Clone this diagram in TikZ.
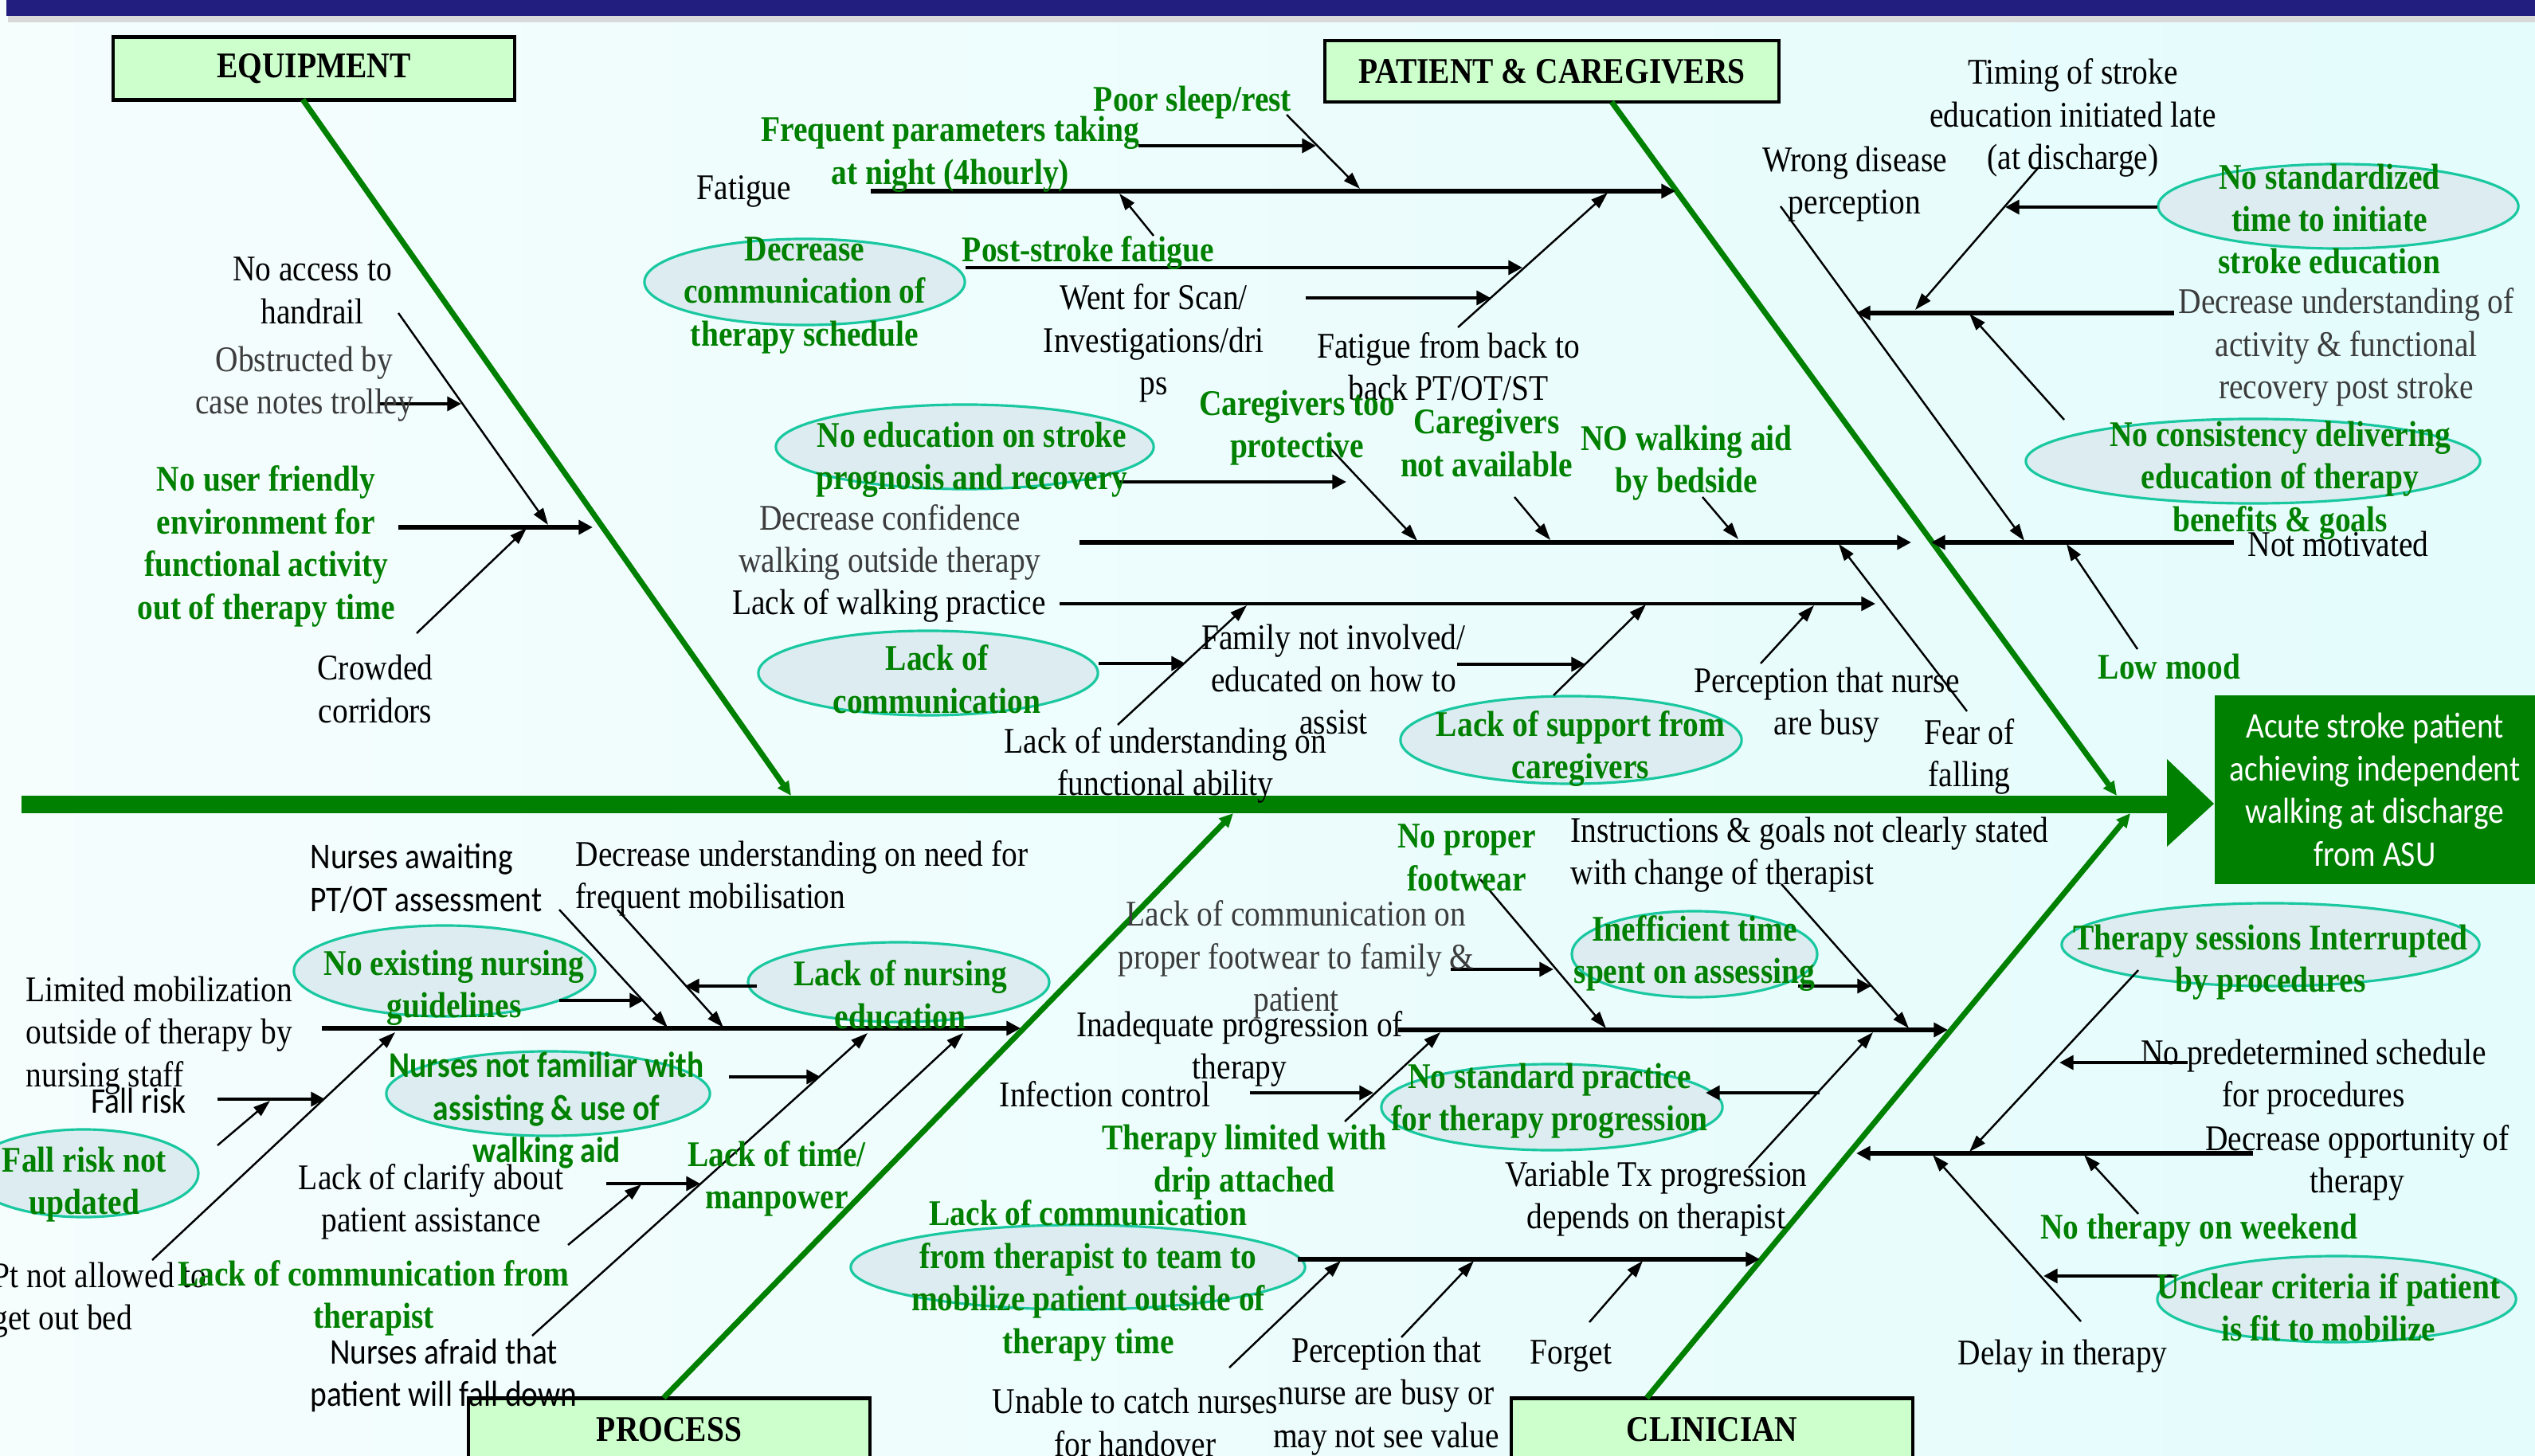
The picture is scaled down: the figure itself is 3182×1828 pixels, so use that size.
\documentclass[tikz,border=0pt]{standalone}
\usepackage{fontspec}
\setmainfont{Liberation Serif}[FakeStretch=0.87]
\newfontfamily\calfont{Carlito}[FakeStretch=0.87]
\usetikzlibrary{arrows.meta,shapes,positioning}
\definecolor{bonegreen}{RGB}{0,128,0}
\definecolor{catfill}{RGB}{204,255,204}
\definecolor{ovalfill}{RGB}{221,236,240}
\definecolor{ovalline}{RGB}{25,200,160}
\definecolor{navybar}{RGB}{33,30,128}
\definecolor{txtgray}{RGB}{60,60,60}
\definecolor{bgleft}{RGB}{245,253,253}
\definecolor{bgright}{RGB}{228,252,252}
\newcommand{\lblsize}{\fontsize{12.9pt}{15.2pt}\selectfont}

\begin{document}
\begin{tikzpicture}[x=0.01cm, y=-0.01cm,
  every node/.style={font=\lblsize, align=center, inner sep=0pt},
  gtxt/.style={text=txtgray},
  grn/.style={text=bonegreen, font=\lblsize\bfseries},
  sans/.style={font=\lblsize\calfont},
  oval/.style={ellipse, draw=ovalline, fill=ovalfill, line width=0.9pt},
  catbox/.style={draw=black, fill=catfill, line width=1.3pt, minimum width=5.04cm, minimum height=0.79cm, font=\lblsize\bfseries},
  goalbox/.style={fill=bonegreen, text=white, font=\lblsize\calfont, minimum width=4.02cm, minimum height=2.37cm},
  catbone/.style={bonegreen, line width=2pt, -{Triangle[length=5pt,width=4.5pt]}},
  bone/.style={line width=1.5pt, -{Triangle[length=5pt,width=5pt]}},
  feed/.style={line width=1.3pt, -{Triangle[length=5pt,width=5pt]}},
  twig/.style={line width=0.7pt, -{Triangle[length=6pt,width=4pt]}}]
\useasboundingbox (0,0) rectangle (3182,1828);
\shade[left color=bgleft, right color=bgright] (0,0) rectangle (3182,1828);
\fill[black!15] (10,20) rectangle (3182,28);
\fill[navybar] (8,0) rectangle (3182,20);

% spine and head
\coordinate (tail) at (27,1010);
\coordinate (head) at (2722,1010);
\coordinate (hd1) at (2720,953);
\coordinate (hd2) at (2779,1009);
\coordinate (hd3) at (2720,1063);
\draw[bonegreen, line width=0.21cm] (tail) -- (head);
\fill[bonegreen] (hd1) -- (hd2) -- (hd3) -- cycle;
\node[goalbox] (goal) at (2981,991.5) {Acute stroke patient\\achieving independent\\walking at discharge\\from ASU};

% categories
\node[catbox] (equip) at (394,86) {EQUIPMENT};
\node[catbox, minimum width=5.70cm, minimum height=0.77cm] (patcare) at (1948,89.5) {PATIENT \& CAREGIVERS};
\node[catbox] (process) at (840,1795) {PROCESS};
\node[catbox] (clinic) at (2149,1795) {CLINICIAN};
\coordinate (eqt) at (380,125); \coordinate (eqh) at (993,999);
\coordinate (pct) at (2023,128); \coordinate (pch) at (2657,999);
\coordinate (prt) at (833,1755); \coordinate (prh) at (1548,1021);
\coordinate (clt) at (2067,1755); \coordinate (clh) at (2674,1021);
\draw[catbone] (eqt) -- (eqh);
\draw[catbone] (pct) -- (pch);
\draw[catbone] (prt) -- (prh);
\draw[catbone] (clt) -- (clh);

% ovals
\node[oval, minimum width=4.02cm, minimum height=1.08cm] (ovsched) at (1010,354) {};
\node[oval, minimum width=4.74cm, minimum height=1.06cm] (ovprog) at (1211,561) {};
\node[oval, minimum width=4.26cm, minimum height=1.06cm] (ovcomm) at (1165,845) {};
\node[oval, minimum width=4.28cm, minimum height=1.10cm] (ovsupp) at (1972,929) {};
\node[oval, minimum width=4.52cm, minimum height=1.06cm] (ovstd) at (2935,259) {};
\node[oval, minimum width=5.70cm, minimum height=1.06cm] (ovcons) at (2828,579) {};
\node[oval, minimum width=3.78cm, minimum height=1.14cm] (ovguide) at (558,1219) {};
\node[oval, minimum width=3.78cm, minimum height=1.00cm] (ovnursedu) at (1128,1233) {};
\node[oval, minimum width=2.88cm, minimum height=1.10cm] (ovfallnot) at (105,1473) {};
\node[oval, minimum width=4.06cm, minimum height=1.06cm] (ovfamil) at (688,1373) {};
\node[oval, minimum width=3.08cm, minimum height=1.08cm] (ovineff) at (2127,1198) {};
\node[oval, minimum width=4.28cm, minimum height=1.08cm] (ovprac) at (1948,1390) {};
\node[oval, minimum width=5.70cm, minimum height=1.06cm] (ovteam) at (1353,1591) {};
\node[oval, minimum width=5.24cm, minimum height=1.04cm] (ovinterr) at (2850,1186) {};
\node[oval, minimum width=4.50cm, minimum height=1.08cm] (ovunclear) at (2933,1631) {};

% equipment
\coordinate (ea1) at (500,662); \coordinate (ea2) at (744,662);
\coordinate (hr1) at (500,393); \coordinate (hr2) at (688,659);
\coordinate (tr1) at (476,507); \coordinate (tr2) at (579,507);
\coordinate (cr1) at (523,795); \coordinate (cr2) at (661,663);
\draw[bone] (ea1) -- (ea2);
\draw[twig] (hr1) -- (hr2);
\draw[feed] (tr1) -- (tr2);
\draw[twig] (cr1) -- (cr2);
\node (handrail) at (392,365) {No access to\\handrail};
\node[gtxt] (trolley) at (382,482) {Obstructed by\\case notes trolley};
\node[grn] (userfr) at (334,686) {No user friendly\\environment for\\functional activity\\out of therapy time};
\node (corridor) at (471,865) {Crowded\\corridors};

% patient & caregivers
\coordinate (pa1) at (1093,240); \coordinate (pa2) at (2103,240);
\coordinate (pb1) at (1355,681); \coordinate (pb2) at (2399,681);
\coordinate (pc1) at (1330,758); \coordinate (pc2) at (2354,758);
\coordinate (pd1) at (2729,393); \coordinate (pd2) at (2330,393);
\coordinate (pe1) at (2804,681); \coordinate (pe2) at (2424,681);
\draw[bone] (pa1) -- (pa2);
\draw[bone] (pb1) -- (pb2);
\draw[bone, line width=1pt] (pc1) -- (pc2);
\draw[bone] (pd1) -- (pd2);
\draw[bone] (pe1) -- (pe2);
\coordinate (fq1) at (1429,183); \coordinate (fq2) at (1652,183);
\coordinate (sl1) at (1615,144); \coordinate (sl2) at (1707,237);
\coordinate (ps1) at (1448,296); \coordinate (ps2) at (1405,243);
\coordinate (ps3) at (1212,336); \coordinate (ps4) at (1911,336);
\coordinate (bk1) at (1830,411); \coordinate (bk2) at (2018,242);
\coordinate (sc1) at (1639,374); \coordinate (sc2) at (1871,374);
\coordinate (pr1) at (1405,605); \coordinate (pr2) at (1690,605);
\coordinate (tp1) at (1668,561); \coordinate (tp2) at (1779,679);
\coordinate (na1) at (1901,624); \coordinate (na2) at (1946,678);
\coordinate (bs1) at (2137,624); \coordinate (bs2) at (2182,677);
\coordinate (fr1) at (2469,893); \coordinate (fr2) at (2308,683);
\coordinate (lc1) at (1379,833); \coordinate (lc2) at (1488,833);
\coordinate (fa1) at (1403,910); \coordinate (fa2) at (1565,760);
\coordinate (fm1) at (1829,834); \coordinate (fm2) at (1990,834);
\coordinate (su1) at (1950,873); \coordinate (su2) at (2066,759);
\coordinate (nb1) at (2210,833); \coordinate (nb2) at (2277,760);
\coordinate (tm1) at (2559,210); \coordinate (tm2) at (2404,389);
\coordinate (ns1) at (2708,260); \coordinate (ns2) at (2517,260);
\coordinate (wd1) at (2235,259); \coordinate (wd2) at (2541,679);
\coordinate (co1) at (2591,527); \coordinate (co2) at (2472,394);
\coordinate (lm1) at (2683,815); \coordinate (lm2) at (2594,683);
\draw[feed] (fq1) -- (fq2);
\draw[twig] (sl1) -- (sl2);
\draw[twig] (ps1) -- (ps2);
\draw[feed] (ps3) -- (ps4);
\draw[twig] (bk1) -- (bk2);
\draw[feed] (sc1) -- (sc2);
\draw[feed] (pr1) -- (pr2);
\draw[twig] (tp1) -- (tp2);
\draw[twig] (na1) -- (na2);
\draw[twig] (bs1) -- (bs2);
\draw[twig] (fr1) -- (fr2);
\draw[feed] (lc1) -- (lc2);
\draw[twig] (fa1) -- (fa2);
\draw[feed] (fm1) -- (fm2);
\draw[twig] (su1) -- (su2);
\draw[twig] (nb1) -- (nb2);
\draw[twig] (tm1) -- (tm2);
\draw[feed] (ns1) -- (ns2);
\draw[twig] (wd1) -- (wd2);
\draw[twig] (co1) -- (co2);
\draw[twig] (lm1) -- (lm2);
\node (fatigue) at (934,240) {Fatigue};
\node[grn] (freq) at (1193,194) {Frequent parameters taking\\at night (4hourly)};
\node[grn] (sleep) at (1497,129) {Poor sleep/rest};
\node[grn] (poststr) at (1366,318) {Post-stroke fatigue};
\node[grn] (sched) at (1010,371) {Decrease\\communication of\\therapy schedule};
\node (scan) at (1448,431) {Went for Scan/\\Investigations/dri\\ps};
\node (backpt) at (1818,460) {Fatigue from back to\\back PT/OT/ST};
\node[grn] (prog) at (1220,577) {No education on stroke\\prognosis and recovery};
\node[grn] (protect) at (1628,537) {Caregivers too\\protective};
\node[grn] (notavail) at (1866,556) {Caregivers\\not available};
\node[grn] (bedside) at (2117,581) {NO walking aid\\by bedside};
\node[gtxt] (confid) at (1117,681) {Decrease confidence\\walking outside therapy};
\node (practice) at (1116,760) {Lack of walking practice};
\node[grn] (comm) at (1176,853) {Lack of\\communication};
\node (funcab) at (1463,961) {Lack of understanding on\\functional ability};
\node (family) at (1674,853) {Family not involved/\\educated on how to\\assist};
\node[grn] (supp) at (1984,940) {Lack of support from\\caregivers};
\node (busy) at (2293,885) {Perception that nurse\\are busy};
\node (fear) at (2472,950) {Fear of\\falling};
\node (timing) at (2602,148) {Timing of stroke\\education initiated late\\(at discharge)};
\node (wrong) at (2328,231) {Wrong disease\\perception};
\node[grn] (std) at (2924,275) {No standardized\\time to initiate\\stroke education};
\node[gtxt] (decund) at (2945,436) {Decrease understanding of\\activity \& functional\\recovery post stroke};
\node[grn] (cons) at (2862,603) {No consistency delivering\\education of therapy\\benefits \& goals};
\node (motiv) at (2935,683) {Not motivated};
\node[grn] (mood) at (2723,837) {Low mood};

% process
\coordinate (ra1) at (404,1291); \coordinate (ra2) at (1281,1291);
\coordinate (aw1) at (702,1142); \coordinate (aw2) at (838,1290);
\coordinate (dn1) at (775,1142); \coordinate (dn2) at (908,1290);
\coordinate (ne1) at (702,1256); \coordinate (ne2) at (808,1256);
\coordinate (ln1) at (950,1238); \coordinate (ln2) at (860,1238);
\coordinate (fk1) at (273,1380); \coordinate (fk2) at (408,1380);
\coordinate (pn1) at (191,1582); \coordinate (pn2) at (496,1296);
\coordinate (fu1) at (273,1438); \coordinate (fu2) at (339,1382);
\coordinate (nf1) at (915,1352); \coordinate (nf2) at (1030,1352);
\coordinate (af1) at (668,1677); \coordinate (af2) at (1089,1297);
\coordinate (cf1) at (761,1486); \coordinate (cf2) at (879,1486);
\coordinate (ct1) at (713,1563); \coordinate (ct2) at (805,1487);
\coordinate (mp1) at (1048,1447); \coordinate (mp2) at (1209,1297);
\draw[bone] (ra1) -- (ra2);
\draw[twig] (aw1) -- (aw2);
\draw[twig] (dn1) -- (dn2);
\draw[feed] (ne1) -- (ne2);
\draw[feed] (ln1) -- (ln2);
\draw[feed] (fk1) -- (fk2);
\draw[twig] (pn1) -- (pn2);
\draw[twig] (fu1) -- (fu2);
\draw[feed] (nf1) -- (nf2);
\draw[twig] (af1) -- (af2);
\draw[feed] (cf1) -- (cf2);
\draw[twig] (ct1) -- (ct2);
\draw[twig] (mp1) -- (mp2);
\node[sans, anchor=west, align=left] (awaiting) at (389,1103) {Nurses awaiting\\PT/OT assessment};
\node[anchor=west, align=left] (needmob) at (722,1103) {Decrease understanding on need for\\frequent mobilisation};
\node[anchor=west, align=left] (limited) at (32,1300) {Limited mobilization\\outside of therapy by\\nursing staff};
\node[grn] (guide) at (570,1240) {No existing nursing\\guidelines};
\node[grn] (nursedu) at (1130,1249) {Lack of nursing\\education};
\node[sans] (fallrisk) at (174,1382) {Fall risk};
\node[grn] (fallnot) at (106,1487) {Fall risk not\\updated};
\node[anchor=west, align=left] (outbed) at (-10,1632) {Pt not allowed to\\get out bed};
\node[grn, font=\lblsize\calfont\bfseries] (familiar) at (686,1394) {Nurses not familiar with\\assisting \& use of\\walking aid};
\node (clarify) at (541,1509) {Lack of clarify about\\patient assistance};
\node[grn] (commth) at (469,1630) {Lack of communication from\\therapist};
\node[sans] (afraid) at (557,1727) {Nurses afraid that\\patient will fall down};
\node[grn] (manpow) at (975,1480) {Lack of time/\\manpower};

% clinician
\coordinate (ca1) at (1755,1293); \coordinate (ca2) at (2445,1293);
\coordinate (cb1) at (1629,1581); \coordinate (cb2) at (2209,1581);
\coordinate (cc1) at (2828,1448); \coordinate (cc2) at (2330,1448);
\draw[bone] (ca1) -- (ca2);
\draw[bone] (cb1) -- (cb2);
\draw[bone] (cc1) -- (cc2);
\coordinate (fw1) at (1858,1104); \coordinate (fw2) at (2016,1291);
\coordinate (ff1) at (1821,1217); \coordinate (ff2) at (1950,1217);
\coordinate (in1) at (2236,1110); \coordinate (in2) at (2396,1291);
\coordinate (as1) at (2257,1238); \coordinate (as2) at (2349,1238);
\coordinate (tl1) at (1688,1408); \coordinate (tl2) at (1808,1296);
\coordinate (ic1) at (1569,1372); \coordinate (ic2) at (1724,1372);
\coordinate (vt1) at (2195,1466); \coordinate (vt2) at (2351,1296);
\coordinate (vp1) at (2284,1372); \coordinate (vp2) at (2141,1372);
\coordinate (uc1) at (1543,1717); \coordinate (uc2) at (1683,1583);
\coordinate (pt1) at (1759,1679); \coordinate (pt2) at (1850,1583);
\coordinate (fg1) at (1995,1660); \coordinate (fg2) at (2062,1583);
\coordinate (ti1) at (2684,1218); \coordinate (ti2) at (2472,1446);
\coordinate (sd1) at (2746,1334); \coordinate (sd2) at (2585,1334);
\coordinate (wk1) at (2684,1524); \coordinate (wk2) at (2616,1450);
\coordinate (dl1) at (2612,1659); \coordinate (dl2) at (2426,1450);
\coordinate (uf1) at (2732,1602); \coordinate (uf2) at (2565,1602);
\draw[twig] (fw1) -- (fw2);
\draw[feed] (ff1) -- (ff2);
\draw[twig] (in1) -- (in2);
\draw[feed] (as1) -- (as2);
\draw[twig] (tl1) -- (tl2);
\draw[feed] (ic1) -- (ic2);
\draw[twig] (vt1) -- (vt2);
\draw[feed] (vp1) -- (vp2);
\draw[twig] (uc1) -- (uc2);
\draw[twig] (pt1) -- (pt2);
\draw[twig] (fg1) -- (fg2);
\draw[twig] (ti1) -- (ti2);
\draw[feed] (sd1) -- (sd2);
\draw[twig] (wk1) -- (wk2);
\draw[twig] (dl1) -- (dl2);
\draw[feed] (uf1) -- (uf2);
\node (inadeq) at (1556,1317) {Inadequate progression of\\therapy};
\node[grn] (footwear) at (1841,1077) {No proper\\footwear};
\node[gtxt] (commfoot) at (1627,1205) {Lack of communication on\\proper footwear to family \&\\patient};
\node[anchor=west, align=left] (instr) at (1971,1073) {Instructions \& goals not clearly stated\\with change of therapist};
\node[grn] (ineff) at (2127,1197) {Inefficient time\\spent on assessing};
\node (infect) at (1387,1374) {Infection control};
\node[grn] (drip) at (1562,1459) {Therapy limited with\\drip attached};
\node[grn] (prac) at (1945,1382) {No standard practice\\for therapy progression};
\node (variable) at (2079,1505) {Variable Tx progression\\depends on therapist};
\node[grn] (team) at (1366,1608) {Lack of communication\\from therapist to team to\\mobilize patient outside of\\therapy time};
\node (handover) at (1425,1786) {Unable to catch nurses\\for handover};
\node (seevalue) at (1740,1753) {Perception that\\nurse are busy or\\may not see value};
\node (forget) at (1972,1703) {Forget};
\node[grn] (interr) at (2850,1208) {Therapy sessions Interrupted\\by procedures};
\node (predet) at (2904,1352) {No predetermined schedule\\for procedures};
\node (decopp) at (2959,1460) {Decrease opportunity of\\therapy};
\node[grn] (weekend) at (2760,1545) {No therapy on weekend};
\node[grn] (unclear) at (2923,1641) {Unclear criteria if patient\\is fit to mobilize};
\node (delay) at (2589,1703) {Delay in therapy};
\end{tikzpicture}
\end{document}
